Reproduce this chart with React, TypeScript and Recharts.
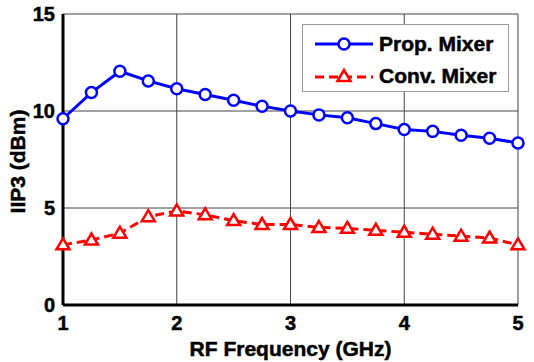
import React from 'react';
import { LineChart, Line, XAxis, YAxis, CartesianGrid } from 'recharts';

const freq = [1, 1.25, 1.5, 1.75, 2, 2.25, 2.5, 2.75, 3, 3.25, 3.5, 3.75, 4, 4.25, 4.5, 4.75, 5];
const propMixer = [9.6, 10.95, 12.05, 11.55, 11.15, 10.85, 10.55, 10.25, 10.0, 9.8, 9.65, 9.35, 9.05, 8.95, 8.75, 8.6, 8.35];
const convMixer = [3.1, 3.35, 3.7, 4.55, 4.85, 4.65, 4.35, 4.15, 4.15, 4.0, 3.95, 3.85, 3.75, 3.65, 3.55, 3.45, 3.1];
const xTicks = [1, 2, 3, 4, 5];
const yTicks = [0, 5, 10, 15];
const seriesNames = ['Prop. Mixer', 'Conv. Mixer'];

const data = freq.map((f, i) => ({ f, prop: propMixer[i], conv: convMixer[i] }));

const FONT = '"Liberation Sans", Arial, sans-serif';
const BLUE = '#0000ff';
const RED = '#ff0000';

const Triangle = (props: any) => {
  const { cx, cy } = props;
  if (cx == null || cy == null) return null;
  const pts = `${cx},${cy - 6.5} ${cx - 6.5},${cy + 4.5} ${cx + 6.5},${cy + 4.5}`;
  return <polygon key={`t-${cx}`} points={pts} fill="white" stroke={RED} strokeWidth={2.5} />;
};

const Circle = (props: any) => {
  const { cx, cy } = props;
  if (cx == null || cy == null) return null;
  return <circle key={`c-${cx}`} cx={cx} cy={cy} r={5.5} fill="white" stroke={BLUE} strokeWidth={2.5} />;
};

const textStyle = (size: number) => ({
  fontFamily: FONT, fontWeight: 700, fontSize: size, fill: '#000', stroke: '#000', strokeWidth: 0.5,
});

const XTick = (props: any) => {
  const { x, y, payload } = props;
  return (
    <text x={x} y={y + 25} textAnchor="middle" style={textStyle(20)}>{payload.value}</text>
  );
};

const YTick = (props: any) => {
  const { x, y, payload } = props;
  return (
    <text x={x - 8} y={y + 7} textAnchor="end" style={textStyle(20)}>{payload.value}</text>
  );
};

export default function App() {
  return (
    <div style={{ position: 'absolute', left: 0, top: 0, width: 534, height: 362, background: '#fff' }}>
      <LineChart width={534} height={362} data={data} margin={{ top: 14, right: 16, left: 0, bottom: 0 }}>
        <CartesianGrid stroke="#444" strokeWidth={1} horizontal vertical />
        <XAxis
          dataKey="f"
          type="number"
          domain={[1, 5]}
          ticks={xTicks}
          height={57}
          tickSize={0}
          tickMargin={0}
          stroke="#000"
          axisLine={{ stroke: '#000', strokeWidth: 3 }}
          tick={<XTick />}
          label={{
            content: (p: any) => {
              const vb = p.viewBox || {};
              const cx = vb.x + vb.width / 2;
              return (
                <text x={cx} y={356} textAnchor="middle" style={textStyle(21)}>RF Frequency (GHz)</text>
              );
            },
          }}
        />
        <XAxis
          xAxisId="top"
          orientation="top"
          dataKey="f"
          type="number"
          domain={[1, 5]}
          ticks={xTicks}
          height={0}
          mirror
          tick={false}
          tickSize={5}
          stroke="#000"
          tickLine={{ stroke: '#000', strokeWidth: 1.5 }}
          axisLine={{ stroke: '#000', strokeWidth: 3 }}
        />
        <YAxis
          type="number"
          domain={[0, 15]}
          ticks={yTicks}
          width={63}
          tickSize={0}
          tickMargin={0}
          stroke="#000"
          axisLine={{ stroke: '#000', strokeWidth: 3 }}
          tick={<YTick />}
          label={{
            content: (p: any) => {
              const vb = p.viewBox || {};
              const cx = 17;
              const cy = vb.y + vb.height / 2 + 2;
              return (
                <text x={cx} y={cy} transform={`rotate(-90 ${cx} ${cy})`} textAnchor="middle" dominantBaseline="central"
                  style={textStyle(21)}>IIP3 (dBm)</text>
              );
            },
          }}
        />
        <YAxis
          yAxisId="right"
          orientation="right"
          type="number"
          domain={[0, 15]}
          ticks={yTicks}
          width={0}
          mirror
          tick={false}
          tickSize={5}
          stroke="#000"
          tickLine={{ stroke: '#000', strokeWidth: 1.5 }}
          axisLine={{ stroke: '#000', strokeWidth: 4 }}
        />
        <Line
          dataKey="prop"
          stroke={BLUE}
          strokeWidth={3}
          dot={<Circle />}
          isAnimationActive={false}
        />
        <Line
          dataKey="conv"
          stroke={RED}
          strokeWidth={3}
          strokeDasharray="9 5"
          dot={<Triangle />}
          isAnimationActive={false}
        />
      </LineChart>
      <div
        style={{
          position: 'absolute', left: 302, top: 24, width: 205, height: 66,
          border: '1px solid #999', background: '#fff', fontFamily: FONT, fontWeight: 700, fontSize: 21, color: '#000',
          WebkitTextStroke: '0.5px #000',
        }}
      >
        <div style={{ position: 'absolute', left: 12, top: 7, height: 24, display: 'flex', alignItems: 'center', whiteSpace: 'nowrap' }}>
          <svg width={58} height={20}>
            <line x1={0} y1={10} x2={58} y2={10} stroke={BLUE} strokeWidth={3} />
            <circle cx={29} cy={10} r={5.5} fill="white" stroke={BLUE} strokeWidth={2.5} />
          </svg>
          <span style={{ marginLeft: 6 }}>{seriesNames[0]}</span>
        </div>
        <div style={{ position: 'absolute', left: 12, top: 39, height: 24, display: 'flex', alignItems: 'center', whiteSpace: 'nowrap' }}>
          <svg width={58} height={20}>
            <line x1={0} y1={11} x2={58} y2={11} stroke={RED} strokeWidth={3} strokeDasharray="9 5" />
            <polygon points="29,4 22.5,15 35.5,15" fill="white" stroke={RED} strokeWidth={2.5} />
          </svg>
          <span style={{ marginLeft: 6 }}>{seriesNames[1]}</span>
        </div>
      </div>
    </div>
  );
}
